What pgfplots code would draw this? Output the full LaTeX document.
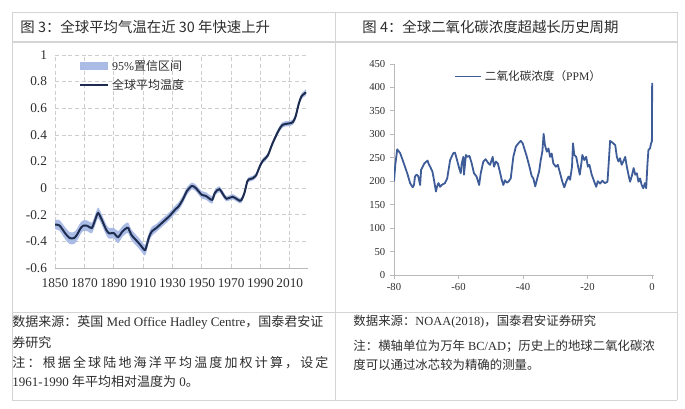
\documentclass[border=0pt]{standalone}
\usepackage{fontspec}
\setmainfont{Liberation Serif}
\newfontfamily\cjk{Noto Sans CJK SC}
\usepackage{pgfplots}
\pgfplotsset{compat=1.18}
\usepackage{pgfplotstable}

\definecolor{band}{RGB}{170,188,230}
\definecolor{tline}{RGB}{30,44,80}
\definecolor{cline}{RGB}{62,92,152}
\definecolor{framec}{RGB}{212,212,212}
\definecolor{gridc}{RGB}{205,205,205}
\definecolor{axc}{RGB}{185,185,185}
\definecolor{txt}{RGB}{45,45,45}

\makeatletter
\def\spreadchars#1{\spr@A#1\relax}
\def\spr@A#1{#1\futurelet\spr@next\spr@B}
\def\spr@B{\ifx\spr@next\relax\expandafter\spr@gobble\else\hfil\expandafter\spr@A\fi}
\def\spr@gobble#1{}
\makeatother

\pgfplotstableread{
year t
1850 -0.275
1853 -0.28
1857 -0.34
1860 -0.375
1863 -0.375
1865 -0.35
1867 -0.31
1869 -0.283
1872 -0.283
1875 -0.30
1877 -0.25
1879 -0.19
1880 -0.195
1882 -0.24
1885 -0.315
1887 -0.34
1890 -0.338
1893 -0.368
1896 -0.325
1899 -0.298
1900 -0.30
1902 -0.35
1906 -0.40
1908 -0.425
1911 -0.465
1912 -0.45
1914 -0.37
1916 -0.325
1919 -0.30
1924 -0.25
1928 -0.21
1932 -0.16
1934 -0.14
1937 -0.088
1940 -0.02
1943 0.015
1944 0.015
1946 0.0
1950 -0.05
1953 -0.06
1957 -0.088
1959 -0.035
1962 -0.008
1965 -0.055
1967 -0.08
1971 -0.065
1974 -0.083
1976 -0.095
1977 -0.09
1979 -0.04
1981 0.05
1982 0.065
1985 0.075
1987 0.095
1990 0.175
1992 0.21
1995 0.245
1998 0.33
2002 0.425
2005 0.475
2009 0.485
2012 0.495
2014 0.54
2016 0.63
2018 0.69
2020 0.71
2021 0.72
}\tempdata

% 95% band: upper bound forward, lower bound backward
\pgfplotstableread{
year v
1850 -0.24
1853 -0.24
1857 -0.295
1860 -0.33
1863 -0.33
1865 -0.305
1867 -0.265
1869 -0.243
1872 -0.243
1875 -0.26
1877 -0.21
1879 -0.15
1880 -0.155
1882 -0.20
1885 -0.275
1887 -0.30
1890 -0.298
1893 -0.323
1896 -0.285
1899 -0.258
1900 -0.26
1902 -0.31
1906 -0.36
1908 -0.385
1911 -0.425
1912 -0.41
1914 -0.335
1916 -0.29
1919 -0.27
1924 -0.22
1928 -0.18
1932 -0.13
1934 -0.11
1937 -0.058
1940 0.01
1943 0.04
1944 0.04
1946 0.025
1950 -0.022
1953 -0.032
1957 -0.06
1959 -0.01
1962 0.014
1965 -0.033
1967 -0.06
1971 -0.045
1974 -0.063
1976 -0.075
1977 -0.07
1979 -0.02
1981 0.068
1982 0.083
1985 0.093
1987 0.113
1990 0.193
1992 0.228
1995 0.263
1998 0.348
2002 0.445
2005 0.495
2009 0.505
2012 0.515
2014 0.562
2016 0.652
2018 0.712
2020 0.732
2021 0.742
2021 0.698
2020 0.688
2018 0.668
2016 0.608
2014 0.518
2012 0.475
2009 0.465
2005 0.455
2002 0.405
1998 0.312
1995 0.227
1992 0.192
1990 0.157
1987 0.077
1985 0.057
1982 0.047
1981 0.032
1979 -0.06
1977 -0.11
1976 -0.115
1974 -0.103
1971 -0.085
1967 -0.10
1965 -0.077
1962 -0.03
1959 -0.06
1957 -0.116
1953 -0.088
1950 -0.078
1946 -0.025
1944 -0.01
1943 -0.01
1940 -0.05
1937 -0.118
1934 -0.17
1932 -0.19
1928 -0.24
1924 -0.28
1919 -0.33
1916 -0.36
1914 -0.405
1912 -0.49
1911 -0.505
1908 -0.465
1906 -0.44
1902 -0.39
1900 -0.34
1899 -0.338
1896 -0.365
1893 -0.413
1890 -0.378
1887 -0.38
1885 -0.355
1882 -0.28
1880 -0.235
1879 -0.23
1877 -0.29
1875 -0.34
1872 -0.323
1869 -0.323
1867 -0.355
1865 -0.395
1863 -0.42
1860 -0.42
1857 -0.385
1853 -0.32
1850 -0.31
}\banddata

\pgfplotstableread{
x ppm
-80 200
-79.6 235
-79.0 268
-78.1 260
-77.3 245
-76.6 231
-75.9 217
-75.0 196
-74.2 187
-73.8 192
-73.5 210
-73.0 214
-72.5 211
-71.9 192
-71.6 224
-70.6 238
-69.6 244
-69.2 236
-68.8 231
-68.1 221
-67.5 199
-67.0 178
-66.6 190
-66.2 196
-65.7 188
-65.2 192
-64.2 196
-63.5 206
-62.6 245
-61.6 260
-61.1 261
-60.6 249
-59.8 228
-59.3 217
-59.0 238
-58.5 252
-58.3 214
-57.7 256
-57.2 252
-56.6 254
-55.9 238
-55.2 217
-54.4 210
-53.6 192
-53.1 217
-52.3 242
-51.6 247
-50.7 238
-50.2 235
-49.4 252
-49.0 231
-48.4 242
-47.8 238
-47.3 224
-46.6 203
-46.1 192
-45.6 202
-45.0 197
-44.5 199
-43.8 206
-43.0 252
-42.2 274
-41.4 281
-40.7 286
-40.1 281
-39.6 270
-38.8 252
-38.0 231
-37.3 211
-36.8 206
-36.2 189
-35.7 203
-35.0 221
-34.5 245
-34.0 263
-33.6 301
-33.2 277
-32.6 263
-32.1 270
-31.6 252
-31.1 259
-30.6 238
-29.8 231
-29.2 235
-28.5 217
-27.8 199
-27.2 187
-26.6 199
-25.9 210
-25.4 203
-24.8 231
-24.5 281
-24.1 256
-23.5 252
-22.9 231
-22.4 214
-21.9 238
-21.6 256
-21.0 245
-20.4 252
-19.9 231
-19.4 235
-18.7 214
-17.9 199
-17.3 188
-16.8 200
-16.1 195
-15.4 201
-14.6 196
-13.8 199
-13.3 252
-13.0 286
-12.2 282
-11.4 277
-10.9 252
-10.4 242
-9.9 249
-9.4 235
-8.9 242
-8.3 252
-7.8 231
-7.3 214
-6.8 199
-6.3 210
-5.7 228
-5.2 214
-4.7 217
-4.2 199
-3.7 206
-3.2 192
-2.7 185
-2.2 196
-1.8 185
-1.4 238
-1.1 267
-0.6 270
-0.3 281
-0.05 284
0.0 300
0.05 410
}\codata

\begin{document}
\begin{tikzpicture}
\path[use as bounding box] (0pt,0pt) rectangle (513.75pt,-306.75pt);

% frame lines
\begin{scope}[x=0.75pt,y=-0.75pt,draw=framec,line width=0.7pt]
\draw (12,12) -- (677,12);
\draw[line width=1pt] (12,42) -- (677,42);
\draw (12,312) -- (677,312);
\draw (12,400) -- (677,400);
\draw (12,12) -- (12,400);
\draw (335,12) -- (335,400);
\draw (677,12) -- (677,400);

% titles
\node[anchor=west,inner sep=0pt,text=txt,font=\cjk\fontsize{10.8}{13}\selectfont] at (20,27) {图 3：全球平均气温在近 30 年快速上升};
\node[anchor=west,inner sep=0pt,text=txt,font=\cjk\fontsize{10.8}{13}\selectfont] at (362,27) {图 4：全球二氧化碳浓度超越长历史周期};

% footnotes left
\begin{scope}[every node/.style={anchor=west,inner sep=0pt,text=txt,font=\fontsize{9.75}{12}\selectfont}]
\node at (12,322) {{\cjk 数据来源：英国} Med Office Hadley Centre{\cjk ，国泰君安证}};
\node at (12,343) {{\cjk 券研究}};
\node at (12,363) {\makebox[237pt][s]{\cjk\spreadchars{注：根据全球陆地海洋平均温度加权计算，设定}}};
\node at (12,382) {1961-1990 {\cjk 年平均相对温度为} 0{\cjk 。}};
\end{scope}
% footnotes right
\begin{scope}[every node/.style={anchor=west,inner sep=0pt,text=txt,font=\fontsize{9.3}{12}\selectfont}]
\node at (353,322) {{\cjk 数据来源：}NOAA(2018){\cjk ，国泰君安证券研究}};
\node at (353,346) {{\cjk 注：横轴单位为万年} BC/AD{\cjk ；历史上的地球二氧化碳浓}};
\node at (353,365) {{\cjk 度可以通过冰芯较为精确的测量。}};
\end{scope}
\end{scope}

% left chart
\begin{axis}[
  at={(41.25pt,-201pt)}, anchor=south west,
  scale only axis, width=189.75pt, height=159.75pt,
  xmin=1850, xmax=2022.4, ymin=-0.6, ymax=1,
  xtick={1850,1870,1890,1910,1930,1950,1970,1990,2010},
  ytick={-0.6,-0.4,-0.2,0,0.2,0.4,0.6,0.8,1},
  axis lines*=left,
  y axis line style={draw=none},
  x axis line style={draw=axc,line width=0.7pt,-},
  major tick length=0pt,
  grid=major,
  major grid style={draw=gridc,dash pattern=on 3pt off 2pt,line width=0.5pt},
  tick label style={font=\rmfamily\fontsize{10}{12}\selectfont,text=txt},
  /pgf/number format/assume math mode=true,
  xticklabel style={/pgf/number format/1000 sep={},yshift=-4.5pt},
  yticklabel style={/pgf/number format/fixed,xshift=-2.5pt},
  legend style={at={(rel axis cs:0.09,0.995)},anchor=north west,draw=none,fill=none,
    font=\fontsize{9}{11}\selectfont,row sep=1pt,inner sep=1pt,text=txt},
  legend cell align=left,
]
\addplot[fill=band,draw=none,smooth,
  legend image code/.code={\fill[band] (0pt,-3pt) rectangle (21pt,3pt);}]
  table[x=year,y=v] {\banddata} -- cycle;
\addlegendentry{95\%{\cjk 置信区间}}
\addplot[tline,line width=1.5pt,smooth,
  legend image code/.code={\draw[tline,line width=1.5pt] (0pt,0pt) -- (21pt,0pt);}]
  table[x=year,y=t] {\tempdata};
\addlegendentry{{\cjk 全球平均温度}}
\end{axis}

% right chart
\begin{axis}[
  at={(295.5pt,-206.25pt)}, anchor=south west,
  scale only axis, width=194.7pt, height=158.25pt,
  xmin=-80, xmax=0.5, ymin=0, ymax=450,
  xtick={-80,-60,-40,-20,0},
  ytick={0,50,100,150,200,250,300,350,400,450},
  axis lines*=left,
  axis line style={draw=axc,line width=0.7pt,-},
  tick style={draw=axc,line width=0.6pt},
  major tick length=3pt, tick align=outside,
  tick label style={font=\rmfamily\fontsize{8}{10}\selectfont,text=txt},
  /pgf/number format/assume math mode=true,
  legend style={at={(rel axis cs:0.225,0.99)},anchor=north west,draw=none,fill=none,
    font=\fontsize{8.7}{10}\selectfont,inner sep=1pt,text=txt},
]
\addplot[cline,line width=1.35pt,line join=round,
  legend image code/.code={\draw[cline,line width=1.2pt] (0pt,0pt) -- (20pt,0pt);}]
  table[x=x,y=ppm] {\codata};
\addlegendentry{{\cjk 二氧化碳浓度（}PPM{\cjk ）}}
\end{axis}
\end{tikzpicture}
\end{document}
